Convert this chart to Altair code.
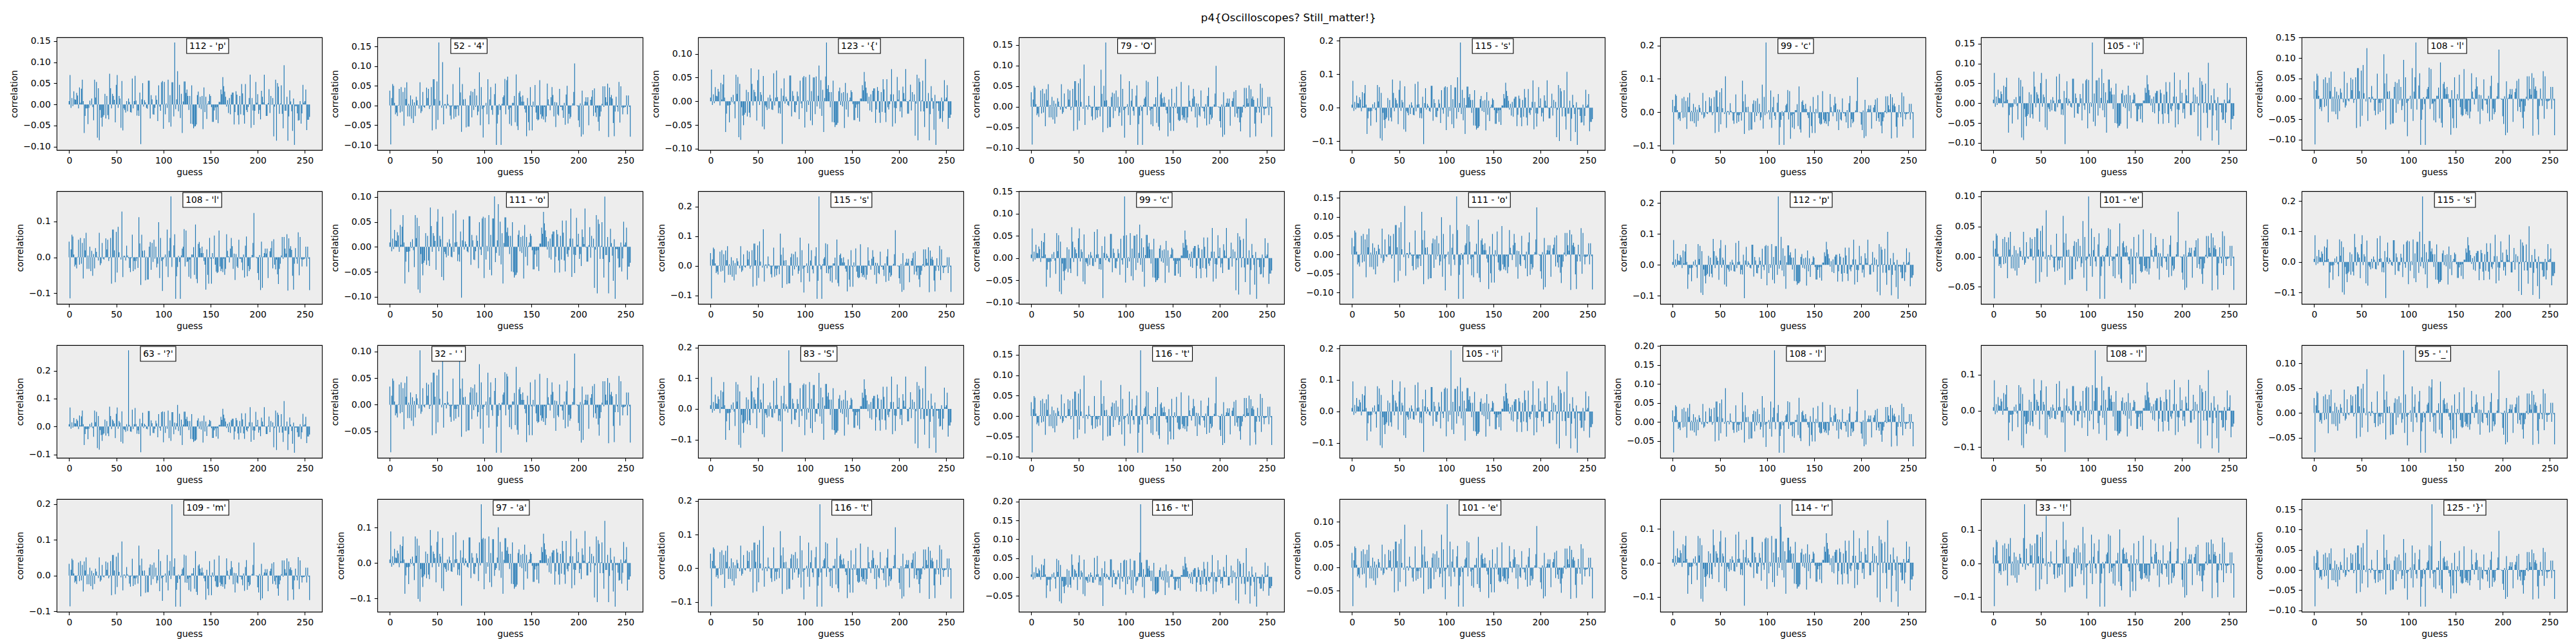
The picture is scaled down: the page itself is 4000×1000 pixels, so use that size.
import math

import altair as alt
import pandas as pd

FLAG = "p4{Oscilloscopes? Still_matter!}"

GUESSES = [112, 52, 123, 79, 115, 99, 105, 108,
           108, 111, 115, 99, 111, 112, 101, 115,
           63, 32, 83, 116, 105, 108, 108, 95,
           109, 97, 116, 116, 101, 114, 33, 125]

# winning bar height and deepest bar of every panel
PEAKS = [0.147, 0.160, 0.124, 0.156, 0.195, 0.209, 0.153, 0.138,
         0.170, 0.101, 0.234, 0.139, 0.154, 0.221, 0.100, 0.215,
         0.273, 0.102, 0.191, 0.161, 0.194, 0.189, 0.167, 0.126,
         0.200, 0.166, 0.190, 0.193, 0.138, 0.172, 0.177, 0.163]
LOWS = [-0.096, -0.100, -0.092, -0.093, -0.111, -0.098, -0.105, -0.113,
        -0.116, -0.104, -0.112, -0.092, -0.117, -0.110, -0.070, -0.121,
        -0.094, -0.090, -0.143, -0.090, -0.131, -0.081, -0.116, -0.080,
        -0.087, -0.123, -0.114, -0.079, -0.085, -0.129, -0.129, -0.091]
TICK_STEPS = [0.05, 0.05, 0.05, 0.05, 0.1, 0.1, 0.05, 0.05,
              0.1, 0.05, 0.1, 0.05, 0.05, 0.1, 0.05, 0.1,
              0.1, 0.05, 0.1, 0.05, 0.1, 0.05, 0.1, 0.05,
              0.1, 0.1, 0.1, 0.05, 0.05, 0.1, 0.1, 0.05]
# which of the two traced panels lends its shape to each panel
PATTERN_OF = "ABABABAB" "BABABABA" "ABABABAB" "BABABABB"

NOISE_A = [
    0.008, 0.069, -0.008, 0.015, -0.004, 0.031, 0.012, 0.011, 0.027, 0.021,
    -0.009, 0.040, 0.004, 0.037, 0.058, 0.008, -0.067, -0.027, -0.009, -0.009,
    -0.046, -0.008, 0.009, -0.002, 0.014, -0.006, -0.037, 0.058, 0.016, 0.053,
    -0.078, 0.038, -0.084, -0.013, -0.031, -0.052, -0.029, -0.025, 0.025, -0.033,
    0.020, -0.025, -0.035, 0.072, 0.038, -0.009, 0.025, 0.020, 0.011, -0.042,
    0.046, 0.069, -0.008, 0.020, 0.014, -0.055, 0.055, -0.061, -0.009, -0.013,
    -0.019, 0.008, -0.016, 0.014, 0.006, -0.018, -0.019, 0.061, -0.009, 0.008,
    0.067, 0.009, -0.026, -0.014, -0.027, 0.028, -0.093, 0.012, 0.050, -0.005,
    0.010, 0.005, -0.008, -0.010,
    0.056, 0.056, -0.033, 0.022, 0.012, -0.023, -0.024, -0.008, 0.021, 0.011,
    -0.039, 0.045, -0.005, -0.015, 0.052, 0.055, -0.057, 0.053, -0.023, 0.002,
    -0.008, 0.058, -0.042, 0.022, -0.052, 0.052, 0.052, -0.028, 0.147, -0.011,
    0.012, 0.078, -0.016, 0.046, -0.032, 0.025, -0.067, 0.007,
    0.054, 0.054, 0.027, 0.035, 0.020, -0.013, 0.020, -0.045,
    0.045, -0.046, -0.056, -0.052, -0.051, -0.047, 0.022, 0.030, -0.008,
    0.018, -0.011, 0.020, -0.058, 0.040, -0.018, 0.018, -0.034,
    0.002, 0.008, 0.024, 0.020, -0.006, -0.041, -0.041, -0.014, -0.007, -0.036,
    -0.006, -0.044, 0.006, 0.006, 0.035, 0.024, 0.064, 0.043, 0.030, 0.018,
    -0.005, 0.010, -0.020,
    0.015, -0.023, 0.023, 0.028, 0.028, -0.047, -0.018, 0.031, 0.023, -0.025,
    -0.047, 0.020, -0.023, 0.048, 0.026, -0.025, -0.045, 0.048, -0.013, -0.018,
    -0.006, 0.015, 0.070, -0.055, 0.015, -0.014, -0.048, -0.015, 0.053, 0.004,
    0.024, -0.022, -0.013, -0.035, 0.032, 0.018, 0.005, 0.070, -0.001, -0.027,
    -0.027, 0.003, 0.036, -0.020, 0.020, -0.001, 0.015, -0.075, -0.005, 0.058,
    -0.085, 0.050, 0.042, -0.022, 0.002, 0.045, -0.022, -0.056, 0.092, -0.015,
    -0.015, 0.018, -0.085, -0.028, 0.033, 0.007, -0.016, -0.062, 0.014, -0.095,
    -0.004, -0.004, -0.021, -0.038, -0.037, 0.008, -0.045, -0.021, 0.046, 0.004,
    0.008, 0.035, -0.060, -0.036, -0.036, -0.029,
]

NOISE_B = [
    0.034, -0.089, 0.017, 0.049, 0.045, 0.006, -0.020, -0.016, -0.024, 0.001,
    0.038, -0.016, 0.042, -0.014, 0.031, -0.046, 0.041, 0.015, 0.053, -0.025,
    0.004, -0.025, 0.023, -0.030, 0.014, -0.040, 0.007, -0.024, 0.020, 0.012,
    0.001, -0.007, 0.053, -0.017, -0.013, 0.031, -0.003, -0.005, 0.001, 0.041,
    0.017, 0.038, -0.008, -0.002, 0.042, -0.057, 0.060, 0.060, 0.015, -0.054,
    0.055, -0.033, 0.066, 0.011, 0.000, -0.005, 0.099, -0.043, 0.003, 0.003,
    -0.007, 0.025, 0.004, -0.002, -0.023, -0.032, -0.002, 0.049, -0.030, -0.008,
    -0.026, -0.008, -0.002, -0.023, 0.087, 0.030, -0.060, 0.049, 0.014, 0.001,
    0.015, -0.050, 0.001, -0.048, -0.048, 0.023, 0.033, -0.027, 0.031, -0.010,
    0.038, -0.003, 0.023, -0.022, -0.014, 0.076, -0.045, 0.042, -0.008,
    -0.073, -0.004, 0.001, 0.006, -0.020, 0.060, -0.043, 0.014, 0.042, -0.010,
    -0.021, 0.000, 0.026, 0.050, -0.090, -0.041, -0.021, 0.003, -0.010, -0.090,
    0.004, 0.019, 0.023, 0.061, -0.020, 0.058,
    0.161,
    -0.009, -0.042, -0.005, -0.046, 0.006, 0.006, 0.022, -0.038, 0.071,
    -0.047, -0.056, 0.029, 0.033, 0.020, 0.009, 0.023, 0.009, -0.008, -0.016,
    -0.070, 0.017, -0.038, -0.057, 0.042, -0.003, -0.057, 0.009, -0.003, 0.047,
    -0.016, -0.031, -0.034, -0.032, 0.058, -0.020, -0.030, -0.025, -0.032, -0.003,
    -0.038, -0.025, 0.050, 0.014, 0.002, -0.011, 0.019, 0.042, 0.024, -0.025,
    0.008, -0.049, 0.007, -0.020, -0.023, 0.038, -0.003, -0.003, -0.011, -0.028,
    0.006, -0.044, 0.025, 0.045, -0.041, -0.019, -0.030, -0.026, -0.001, 0.005,
    0.031, 0.096, 0.000, 0.001, -0.002, -0.034, -0.049, 0.005, -0.071, 0.034,
    -0.066, 0.002, 0.009, 0.019, 0.008, 0.019, -0.045, 0.000, 0.013, 0.020,
    0.035, -0.024, 0.039, -0.016, -0.026, -0.005, -0.037, -0.058, -0.025, -0.014,
    0.004, 0.044, -0.003, 0.044, 0.019, 0.008, 0.050, -0.072, 0.041, 0.019,
    0.024, 0.016, -0.040, -0.070, -0.014, 0.020, -0.003, -0.014, 0.054, -0.039,
    0.044, -0.004, -0.020, -0.005, -0.004, -0.003, 0.023, -0.020, 0.023, -0.003,
    -0.071,
]
assert len(NOISE_A) == 256 and len(NOISE_B) == 256, (len(NOISE_A), len(NOISE_B))

FONT = "DejaVu Sans"
FS = 13.9
PLOT_W, PLOT_H = 412, 175
XDOM = [-13.19, 268.19]
PX_PER_UNIT = PLOT_W / (XDOM[1] - XDOM[0])

# DejaVu Sans advance widths (em) to size the white label boxes
EM = {c: 0.636 for c in "0123456789{}"}
EM.update({" ": 0.318, "-": 0.361, "'": 0.275, "p": 0.635, "O": 0.787,
           "s": 0.521, "c": 0.550, "i": 0.278, "l": 0.278, "o": 0.612,
           "e": 0.615, "?": 0.531, "S": 0.635, "t": 0.392, "_": 0.500,
           "m": 0.974, "a": 0.613, "r": 0.411, "!": 0.401})


def panel(i):
    g = GUESSES[i]
    base = NOISE_A if PATTERN_OF[i] == "A" else NOISE_B
    own = base.index(max(base))
    scale = LOWS[i] / min(base)
    vals = [v * scale for v in base]
    vals[own] = base[g] * scale
    vals[g] = PEAKS[i]

    span = PEAKS[i] - LOWS[i]
    lo, hi = LOWS[i] - 0.05 * span, PEAKS[i] + 0.05 * span
    step = TICK_STEPS[i]
    ticks = [round(k * step, 4) + 0.0
             for k in range(math.ceil(lo / step - 1e-9), math.floor(hi / step + 1e-9) + 1)]
    fmt = ".2f" if step < 0.1 else ".1f"

    xscale = alt.Scale(domain=XDOM, nice=False, zero=False)
    data = pd.DataFrame({"guess": list(range(256)), "correlation": vals})
    bars = (
        alt.Chart(data)
        .transform_calculate(left="datum.guess - 0.4", right="datum.guess + 0.4")
        .mark_bar(color="#1f77b4")
        .encode(
            x=alt.X("left:Q", scale=xscale, title="guess",
                    axis=alt.Axis(values=[0, 50, 100, 150, 200, 250], format="d")),
            x2="right:Q",
            y=alt.Y("correlation:Q", title="correlation",
                    scale=alt.Scale(domain=[lo, hi], nice=False, zero=False),
                    axis=alt.Axis(values=ticks, format=fmt)),
            y2=alt.Y2Datum(0),
        )
    )

    label = f"{g} - '{FLAG[i]}'"
    text_px = sum(EM.get(c, 0.6) for c in label) * FS
    tx = g + 15.5
    box = pd.DataFrame({
        "tx": [tx],
        "bx1": [tx - 4.2 / PX_PER_UNIT],
        "bx2": [tx + (text_px + 4.2) / PX_PER_UNIT],
        "label": [label],
    })
    rect = (
        alt.Chart(box)
        .mark_rect(fill="white", stroke="black", strokeWidth=1.1)
        .encode(x=alt.X("bx1:Q", scale=xscale, title="guess"), x2="bx2:Q",
                y=alt.value(2), y2=alt.value(25))
    )
    text = (
        alt.Chart(box)
        .mark_text(align="left", baseline="middle", font=FONT, fontSize=FS, color="black")
        .encode(x=alt.X("tx:Q", scale=xscale, title="guess"), y=alt.value(13.5),
                text="label:N")
    )
    return alt.layer(bars, rect, text).properties(width=PLOT_W, height=PLOT_H)


chart = (
    alt.concat(*[panel(i) for i in range(32)], columns=8,
               spacing={"row": 64, "column": 86}, bounds="flush")
    .properties(
        title=alt.TitleParams(FLAG, anchor="middle", font=FONT, fontSize=16.7,
                              fontWeight="normal", color="black", offset=14),
        padding={"left": 7, "top": 12, "right": 5, "bottom": 5},
        background="white",
    )
    .configure_view(stroke="black", strokeWidth=1.1, fill="#ededed")
    .configure_axis(
        labelFont=FONT, labelFontSize=FS, labelColor="black",
        titleFont=FONT, titleFontSize=FS, titleFontWeight="normal", titleColor="black",
        tickColor="black", tickSize=4.86, tickWidth=1.1, labelPadding=4.86,
        domain=False, grid=False,
    )
    .configure_axisY(titlePadding=6)
    .configure_axisX(titlePadding=4)
)

chart.save("out.html", embed_options={"renderer": "svg", "actions": False})
